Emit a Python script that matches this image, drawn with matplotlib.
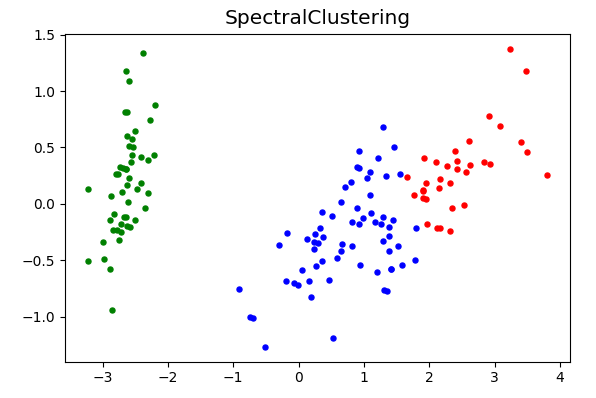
import matplotlib
matplotlib.use("Agg")
import matplotlib.pyplot as plt

# Cluster 0 (green)
green_x = [-2.684, -2.714, -2.889, -2.745, -2.729, -2.281, -2.821, -2.626, -2.886, -2.673,
           -2.507, -2.613, -2.786, -3.224, -2.645, -2.386, -2.624, -2.648, -2.200, -2.588,
           -2.310, -2.544, -3.216, -2.303, -2.356, -2.507, -2.469, -2.562, -2.640, -2.632,
           -2.587, -2.410, -2.649, -2.599, -2.637, -2.866, -2.625, -2.801, -2.981, -2.590,
           -2.770, -2.849, -2.997, -2.406, -2.209, -2.714, -2.538, -2.839, -2.543, -2.703]
green_y = [0.319, -0.177, -0.145, -0.318, 0.327, 0.741, -0.089, 0.163, -0.578, -0.114,
           0.645, 0.015, -0.235, -0.511, 1.179, 1.338, 0.811, 0.312, 0.873, 0.514,
           0.391, 0.433, 0.133, 0.099, -0.037, -0.146, 0.131, 0.368, 0.312, -0.197,
           -0.204, 0.411, 0.813, 1.093, -0.121, 0.069, 0.599, 0.269, -0.488, 0.229,
           0.264, -0.941, -0.342, 0.189, 0.437, -0.250, 0.504, -0.228, 0.579, 0.108]

# Cluster 1 (blue)
blue_x = [1.285, 0.932, 1.464, 0.183, 1.088, 0.642, 1.095, -0.749, 1.044, -0.009,
          -0.508, 0.512, 0.265, 0.985, -0.174, 0.928, 0.660, 0.236, 0.945, 0.045,
          1.116, 0.358, 1.298, 0.922, 0.715, 0.900, 1.332, 1.558, 0.813, -0.306,
          -0.068, -0.190, 0.136, 1.380, 0.588, 0.807, 1.221, 0.815, 0.246, 0.166,
          0.465, 0.891, 0.231, -0.705, 0.357, 0.332, 0.376, 0.643, -0.906, 0.299,
          1.415, 0.521, 1.803, 1.346, 1.586, 1.301, 1.199, 1.389, 1.259, 1.291,
          1.444, 1.781, 1.169, 1.415, 1.527, 1.390]
blue_y = [0.685, 0.318, 0.504, -0.828, 0.075, -0.418, 0.283, -1.005, 0.228, -0.723,
          -1.266, -0.104, -0.550, -0.125, -0.255, 0.467, -0.353, -0.334, -0.543, -0.584,
          -0.085, -0.069, -0.328, -0.183, 0.149, 0.329, 0.244, 0.267, -0.163, -0.368,
          -0.705, -0.680, -0.314, -0.421, -0.484, 0.194, 0.408, -0.372, -0.269, -0.682,
          -0.671, -0.034, -0.404, -1.012, -0.505, -0.213, -0.293, 0.018, -0.756, -0.349,
          -0.575, -1.193, -0.216, -0.777, -0.540, -0.761, -0.606, -0.204, -0.180, -0.117,
          -0.143, -0.500, -0.165, -0.575, -0.375, -0.283]

# Cluster 2 (red)
red_x = [2.531, 2.617, 1.972, 2.350, 3.397, 2.933, 2.321, 2.917, 1.662, 2.166,
         1.904, 1.950, 3.487, 3.796, 2.428, 3.500, 2.275, 2.614, 2.124, 2.388,
         2.842, 3.231, 2.159, 3.076, 2.144, 1.905, 2.108, 2.314, 1.922, 2.563,
         2.419, 1.944, 1.764, 1.901]
red_y = [-0.010, 0.344, -0.180, -0.040, 0.551, 0.356, -0.244, 0.783, 0.242, 0.216,
         0.119, 0.042, 1.176, 0.257, 0.378, 0.461, 0.335, 0.561, -0.210, 0.465,
         0.375, 1.374, -0.217, 0.688, 0.140, 0.049, 0.372, 0.184, 0.409, 0.278,
         0.305, 0.188, 0.079, 0.117]

title = "SpectralClustering"

fig = plt.figure(figsize=(5.96, 3.98), dpi=100)
W, H = 596, 398
ax = fig.add_axes([65 / W, 1 - 361.5 / H, (569.5 - 65) / W, (361.5 - 34) / H])
ax.scatter(green_x, green_y, c="g", s=13)
ax.scatter(blue_x, blue_y, c="b", s=13)
ax.scatter(red_x, red_y, c="r", s=13)
ax.set_title(title, fontsize=14.5, pad=7)
ax.tick_params(labelsize=10)
fig.savefig("out.png", dpi=100)
